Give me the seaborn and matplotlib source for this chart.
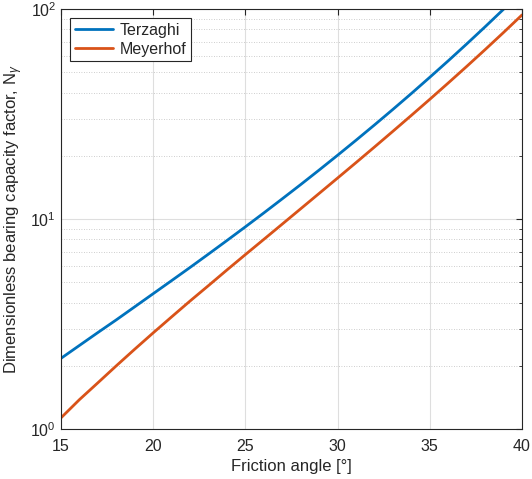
import numpy as np
import pandas as pd
import matplotlib
matplotlib.use("Agg")
import matplotlib.pyplot as plt
import seaborn as sns
from matplotlib.ticker import LogLocator, LogFormatterMathtext, NullFormatter, MultipleLocator

phi = [15, 16, 17, 18, 19, 20, 21, 22, 23, 24, 25, 26, 27, 28, 29, 30,
       31, 32, 33, 34, 35, 36, 37, 38, 39, 40]
terzaghi = [2.17, 2.50, 2.88, 3.31, 3.82, 4.41, 5.09, 5.88, 6.81, 7.90, 9.18,
            10.69, 12.48, 14.59, 17.11, 20.12, 23.72, 28.05, 33.27, 39.59, 47.3,
            56.66, 68.15, 82.29, 99.75, 121.4]
meyerhof = [1.13, 1.38, 1.66, 2.00, 2.40, 2.87, 3.42, 4.07, 4.82, 5.72, 6.77,
            8.00, 9.46, 11.19, 13.24, 15.67, 18.56, 22.02, 26.17, 31.15, 37.15,
            44.43, 53.27, 64.07, 77.33, 93.69]
series_names = ["Terzaghi", "Meyerhof"]

df = pd.DataFrame({
    "phi": phi * 2,
    "N": terzaghi + meyerhof,
    "method": [series_names[0]] * len(phi) + [series_names[1]] * len(phi),
})

sns.set_style("white")
plt.rcParams["font.family"] = ["Liberation Sans", "DejaVu Sans"]
plt.rcParams["mathtext.fontset"] = "custom"
plt.rcParams["mathtext.rm"] = "Liberation Sans"
plt.rcParams["mathtext.it"] = "Liberation Sans:italic"

fig = plt.figure(figsize=(5.32, 4.79), dpi=100)
ax = fig.add_axes([61/532, 50/479, (522-61)/532, (429-9)/479])

sns.lineplot(data=df, x="phi", y="N", hue="method",
             palette={"Terzaghi": "#0072BD", "Meyerhof": "#D95319"},
             linewidth=2.0, ax=ax, legend=True)

ax.set_yscale("log")
ax.set_xlim(15, 40)
ax.set_ylim(1, 100)

axc = (0.15, 0.15, 0.15)
ax.xaxis.set_major_locator(MultipleLocator(5))
ax.yaxis.set_major_locator(LogLocator(base=10, numticks=10))
ax.yaxis.set_major_formatter(LogFormatterMathtext())
ax.yaxis.set_minor_locator(LogLocator(base=10, subs=np.arange(2, 10), numticks=10))
ax.yaxis.set_minor_formatter(NullFormatter())

ax.tick_params(which="both", direction="in", top=True, right=True,
               colors=axc, labelsize=11.5, labelcolor=axc)
ax.tick_params(which="major", length=4, width=0.8)
ax.tick_params(which="minor", length=2.5, width=0.6)
ax.tick_params(axis="x", pad=7)

ax.grid(True, which="major", color=(0.15, 0.15, 0.15), alpha=0.15, linewidth=0.8, linestyle="-")
ax.grid(True, which="minor", axis="y", color=(0.15, 0.15, 0.15), alpha=0.3, linewidth=0.6, linestyle=(0, (1, 2)))
ax.set_axisbelow(True)

for s in ax.spines.values():
    s.set_color(axc)
    s.set_linewidth(0.8)
    s.set_visible(True)

ax.set_xlabel("Friction angle [°]", fontsize=12, color=axc, labelpad=4)
ax.set_ylabel(r"Dimensionless bearing capacity factor, N$_\gamma$", fontsize=12, color=axc)

leg = ax.legend(loc="upper left", fontsize=11.5, frameon=True, fancybox=False,
                edgecolor=axc, framealpha=1, borderpad=0.3, handlelength=2.4,
                handletextpad=0.4, labelspacing=0.25, borderaxespad=0.55)
leg.get_frame().set_linewidth(0.8)

fig.savefig("out.png", dpi=100)
